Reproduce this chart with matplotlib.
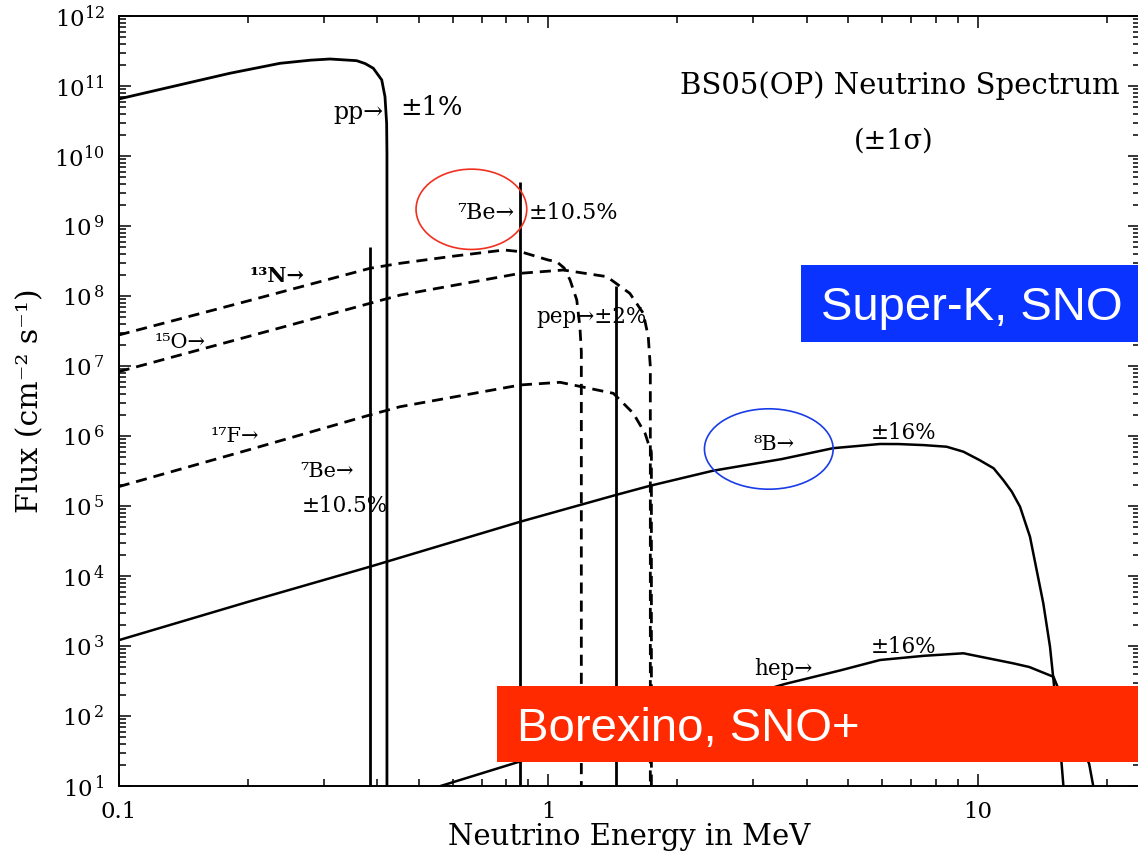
import matplotlib
matplotlib.use("Agg")
import matplotlib.pyplot as plt
import numpy as np
from matplotlib.patches import Ellipse, Rectangle
from matplotlib.ticker import FixedLocator, LogLocator, NullFormatter

plt.rcParams['font.family'] = ['DejaVu Serif']
plt.rcParams['mathtext.fontset'] = 'dejavuserif'
plt.rcParams['lines.scale_dashes'] = False

# continuum spectra, energy in MeV and flux in cm^-2 s^-1 (MeV^-1)
pp_energy = [0.1, 0.15, 0.1815, 0.2376, 0.28, 0.3105, 0.3583, 0.375, 0.3917, 0.4098, 0.417, 0.4207,
             0.4214, 0.4214]
pp_flux = [6.52e10, 1.16e11, 1.52e11, 2.11e11, 2.34e11, 2.43e11, 2.30e11, 2.09e11, 1.79e11, 1.22e11,
           7.03e10, 2.93e10, 1.10e10, 1.0]

n13_energy = [0.1, 0.2, 0.385, 0.452, 0.6, 0.79, 0.862, 1.0, 1.047, 1.09, 1.125, 1.166, 1.186, 1.195, 1.195]
n13_flux = [2.77e7, 8.5e7, 2.49e8, 2.93e8, 3.7e8, 4.54e8, 4.30e8, 3.27e8, 3.09e8, 2.51e8, 1.69e8, 8.8e7,
            3.6e7, 1.6e7, 1.0]

o15_energy = [0.1, 0.2, 0.385, 0.452, 0.862, 1.085, 1.37, 1.55, 1.666, 1.711, 1.73, 1.73]
o15_flux = [8.3e6, 2.63e7, 7.87e7, 1.03e8, 2.11e8, 2.35e8, 1.89e8, 1.09e8, 5.66e7, 2.62e7, 9.8e6, 1.0]

f17_energy = [0.1, 0.2, 0.385, 0.452, 0.862, 1.066, 1.419, 1.579, 1.682, 1.711, 1.735, 1.74, 1.74]
f17_flux = [1.89e5, 6.3e5, 2.0e6, 2.62e6, 5.36e6, 5.85e6, 4.07e6, 2.11e6, 1.09e6, 7.9e5, 6.6e5, 5.6e5, 1.0]

b8_energy = [0.1, 0.2, 0.385, 0.862, 1.44, 1.73, 2.42, 3.5, 4.61, 5.93, 6.55, 7.5, 8.47, 9.27, 10.1,
             10.9, 11.48, 12.02, 12.56, 13.25, 13.73, 14.23, 14.75, 15.03, 15.7, 15.85, 15.85]
b8_flux = [1.21e3, 4.27e3, 1.36e4, 5.97e4, 1.44e5, 1.95e5, 3.19e5, 4.68e5, 6.70e5, 7.69e5, 7.67e5, 7.41e5,
           7.03e5, 5.97e5, 4.54e5, 3.46e5, 2.35e5, 1.60e5, 9.77e4, 3.63e4, 1.22e4, 4.07e3, 9.77e2, 3.24e2,
           2.06e1, 1.0e1, 1.0]

hep_energy = [0.562, 0.846, 3.57, 4.79, 5.93, 7.5, 9.27, 12.1, 13.2, 15.03, 18.2, 18.6, 18.7]
hep_flux = [1.0e1, 2.17e1, 2.88e2, 4.48e2, 6.31e2, 7.24e2, 7.87e2, 5.66e2, 5.01e2, 3.63e2, 2.06e1, 1.0e1, 1.0]

# monoenergetic lines
line_energy = [0.384, 0.862, 1.442]
line_flux = [5.0e8, 4.3e9, 1.4e8]

W, H = 1138, 851
fig = plt.figure(figsize=(W / 100, H / 100), dpi=100)
ax = fig.add_axes([118.7 / W, 1 - 786 / H, (1140 - 118.7) / W, (786 - 16) / H])
ax.set_xscale('log')
ax.set_yscale('log')
ax.set_xlim(0.1, 23.9)
ax.set_ylim(10, 1e12)

solid = dict(color='black', lw=2.0)
dashed = dict(color='black', lw=2.0, linestyle='--', dashes=(8, 5))

ax.plot(pp_energy, pp_flux, **solid)
ax.plot(b8_energy, b8_flux, color='black', lw=1.8)
ax.plot(hep_energy, hep_flux, color='black', lw=1.8)
ax.plot(n13_energy, n13_flux, **dashed)
ax.plot(o15_energy, o15_flux, **dashed)
ax.plot(f17_energy, f17_flux, **dashed)
ax.vlines(line_energy, 1.0, line_flux, color='black', lw=2.0)

# ticks
ax.xaxis.set_major_locator(FixedLocator([0.1, 1, 10]))
ax.set_xticklabels(['0.1', '1', '10'])
ax.xaxis.set_minor_locator(LogLocator(base=10, subs=np.arange(2, 10)))
ax.xaxis.set_minor_formatter(NullFormatter())
yt = [10.0 ** k for k in range(1, 13)]
ax.yaxis.set_major_locator(FixedLocator(yt))
ax.set_yticklabels([r'$10^{%d}$' % k if k >= 10 else r'$10^{\,%d}$' % k for k in range(1, 13)])
ax.yaxis.set_minor_locator(LogLocator(base=10, subs=np.arange(2, 10), numticks=20))
ax.yaxis.set_minor_formatter(NullFormatter())
ax.tick_params(which='both', direction='in', top=True, right=True, width=1.1)
ax.tick_params(which='major', length=8.6, labelsize=16.5)
ax.tick_params(which='minor', length=4.7)
ax.tick_params(axis='y', pad=10)
ax.tick_params(axis='x', pad=11)
for sp in ax.spines.values():
    sp.set_linewidth(1.4)

ax.set_xlabel('Neutrino Energy in MeV', fontsize=21)
ax.xaxis.set_label_coords(0.5, -0.048)
ax.set_ylabel('Flux (cm⁻² s⁻¹)', fontsize=21.5)
ax.yaxis.set_label_coords(-0.073, 0.5)

# labels on the spectra
ax.text(6.6, 1e11, 'BS05(OP) Neutrino Spectrum', fontsize=21, ha='center', va='center')
ax.text(6.39, 1.64e10, '(±1σ)', fontsize=19.5, ha='center', va='center')
ax.text(0.316, 4.25e10, 'pp→', fontsize=17, va='center')
ax.text(0.452, 4.85e10, '±1%', fontsize=18.5, va='center')
ax.text(0.614, 1.53e9, '⁷Be→', fontsize=16, va='center')
ax.text(0.901, 1.53e9, '±10.5%', fontsize=16, va='center')
ax.text(0.202, 1.93e8, '¹³N→', fontsize=15, va='center', fontweight='bold')
ax.text(0.1215, 2.15e7, '¹⁵O→', fontsize=15, va='center')
ax.text(0.1638, 9.77e5, '¹⁷F→', fontsize=15, va='center')
ax.text(0.2644, 3.09e5, '⁷Be→', fontsize=15, va='center')
ax.text(0.2669, 1.0e5, '±10.5%', fontsize=15.5, va='center')
ax.text(0.937, 5.06e7, 'pep→±2%', fontsize=15.5, va='center')
ax.text(3.01, 7.5e5, '⁸B→', fontsize=15, va='center')
ax.text(5.65, 1.1e6, '±16%', fontsize=15.5, va='center')
ax.text(3.02, 474, 'hep→', fontsize=15.5, va='center')
ax.text(5.65, 968, '±16%', fontsize=15.5, va='center')

# detector boxes and highlight ellipses, placed in figure pixels
def fx(px):
    return px / W

def fy(py):
    return 1 - py / H

fig.add_artist(Rectangle((fx(801), fy(342)), fx(340), 77 / H, transform=fig.transFigure,
                         facecolor='#0a33ff', edgecolor='none', zorder=5))
fig.text(fx(821), fy(319.6), 'Super-K, SNO', fontsize=34, color='white', family='Liberation Sans',
         va='baseline', zorder=6)
fig.add_artist(Rectangle((fx(497), fy(762.4)), fx(645), 76.9 / H, transform=fig.transFigure,
                         facecolor='#ff2a00', edgecolor='none', zorder=5))
fig.text(fx(517), fy(740.6), 'Borexino, SNO+', fontsize=34, color='white', family='Liberation Sans',
         va='baseline', zorder=6)

fig.add_artist(Ellipse((fx(471.4), fy(209.3)), 110.7 / W, 80.3 / H, transform=fig.transFigure,
                       fill=False, edgecolor='#f03020', lw=1.2, zorder=6))
fig.add_artist(Ellipse((fx(768.8), fy(449)), 128.7 / W, 80.4 / H, transform=fig.transFigure,
                       fill=False, edgecolor='#1a3ce8', lw=1.2, zorder=6))

fig.savefig('out.png', dpi=100)
